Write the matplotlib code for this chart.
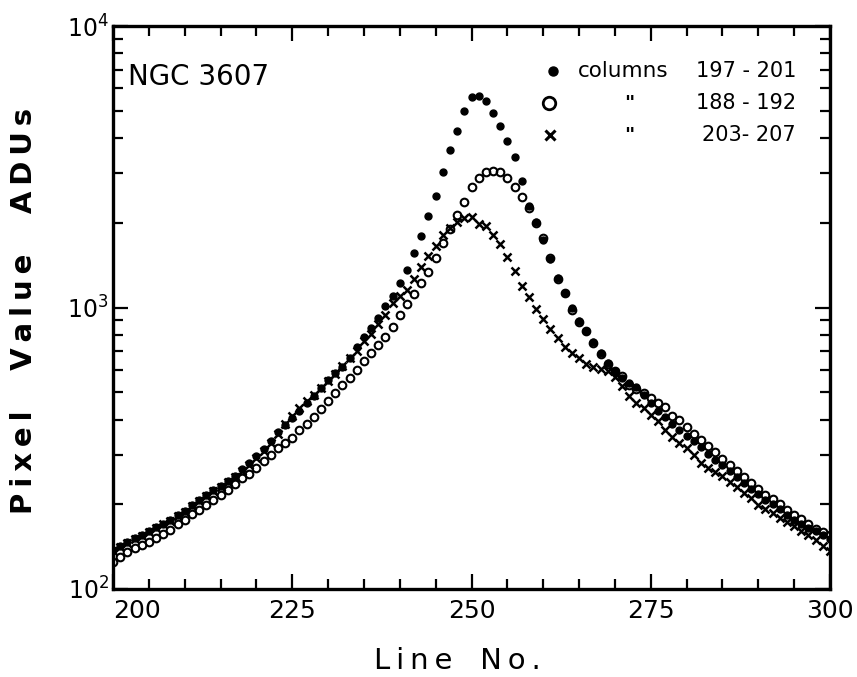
import numpy as np
import matplotlib
matplotlib.use("Agg")
import matplotlib.pyplot as plt
from matplotlib.ticker import MultipleLocator, LogLocator, NullFormatter

# line numbers 200..300, one point per line
line_no = np.arange(200, 301)

# pixel value (ADUs), columns 197-201 (filled dots)
cols_197_201 = [
    138, 142, 147, 152, 156, 161, 166, 170, 176, 183,
    189, 199, 207, 216, 225, 232, 242, 252, 267, 280,
    297, 314, 336, 361, 382, 405, 429, 458, 485, 518,
    553, 585, 615, 662, 724, 786, 846, 918, 1012, 1099,
    1222, 1359, 1562, 1795, 2113, 2490, 3029, 3627, 4236, 4989,
    5594, 5640, 5414, 4909, 4413, 3904, 3424, 2814, 2294, 2013,
    1737, 1487, 1273, 1126, 996, 895, 825, 754, 689, 635,
    595, 562, 539, 522, 489, 458, 429, 408, 386, 367,
    350, 336, 320, 302, 287, 276, 263, 250, 238, 227,
    218, 207, 200, 192, 183, 176, 170, 165, 161, 156, 151,
]

# columns 188-192 (open circles)
cols_188_192 = [
    125, 130, 135, 140, 143, 147, 152, 157, 162, 170,
    176, 185, 191, 199, 207, 216, 225, 236, 247, 257,
    270, 284, 299, 316, 330, 344, 366, 386, 408, 436,
    466, 497, 531, 564, 600, 646, 689, 736, 786, 852,
    937, 1029, 1117, 1222, 1337, 1499, 1695, 1901, 2131, 2371,
    2680, 2884, 3029, 3054, 3029, 2884, 2680, 2470, 2257, 1996,
    1766, 1499, 1263, 1126, 980, 888, 825, 748, 683, 630,
    595, 571, 531, 513, 497, 477, 458, 443, 412, 398,
    376, 355, 338, 321, 307, 290, 276, 263, 250, 238,
    227, 216, 208, 201, 191, 183, 177, 170, 163, 159, 156,
]

# columns 203-207 (crosses)
cols_203_207 = [
    136, 141, 146, 151, 154, 159, 165, 170, 174, 182,
    188, 197, 205, 214, 223, 230, 240, 250, 263, 276,
    292, 309, 330, 355, 386, 412, 440, 466, 489, 518,
    548, 580, 620, 662, 700, 760, 805, 874, 941, 1038,
    1099, 1154, 1263, 1393, 1524, 1654, 1810, 1916, 2013, 2079,
    2097, 1980, 1948, 1810, 1681, 1512, 1348, 1192, 1090, 988,
    910, 839, 779, 724, 689, 662, 630, 615, 605, 595,
    567, 526, 485, 458, 440, 415, 395, 367, 347, 330,
    317, 299, 280, 269, 260, 252, 240, 230, 219, 210,
    199, 192, 186, 179, 173, 167, 161, 156, 149, 142, 136,
]

x_ticks = [200, 225, 250, 275, 300]
x_tick_labels = ['200', '225', '250', '275', '300']
legend_ranges = ["197 - 201", "188 - 192", "203- 207"]

W, H = 857, 677
fig = plt.figure(figsize=(W / 100, H / 100), dpi=100)
ax = fig.add_axes([113 / W, 88 / H, (830 - 113) / W, (651 - 88) / H])

ax.plot(line_no, cols_203_207, linestyle='none', marker='x', ms=5.5,
        mew=1.8, color='black')
ax.plot(line_no, cols_188_192, linestyle='none', marker='o', ms=5.5,
        mew=1.5, mfc='none', mec='black')
ax.plot(line_no, cols_197_201, linestyle='none', marker='o', ms=5,
        color='black')

ax.set_yscale('log')
ax.set_xlim(200, 300)
ax.set_ylim(100, 10000)

# ticks inward on all four sides
ax.set_xticks(x_ticks)
ax.set_xticklabels(x_tick_labels)
ax.xaxis.set_minor_locator(MultipleLocator(5))
ax.set_yticks([100, 1000, 10000])
ax.set_yticklabels([r'$10^2$', r'$10^3$', r'$10^4$'])
ax.yaxis.set_minor_locator(LogLocator(base=10, subs=np.arange(2, 10)))
ax.yaxis.set_minor_formatter(NullFormatter())
ax.tick_params(which='both', direction='in', top=True, right=True,
               width=1.6, colors='black')
ax.tick_params(which='major', length=11)
ax.tick_params(which='minor', length=7)
ax.tick_params(axis='x', which='major', labelsize=18, pad=7)
ax.tick_params(axis='y', which='major', labelsize=17, pad=3)
for s in ax.spines.values():
    s.set_linewidth(2.4)
# the 200 label sits right of its tick, clear of 10^2
ax.get_xticklabels()[0].set_horizontalalignment('left')

ts = '\u2009'
fig.text(457 / W, 1 - 661 / H, ts.join('Line') + '   ' + ts.join('No.'),
         ha='center', va='center', fontsize=21)
ylab = '    '.join(ts.join(w) for w in ['Pixel', 'Value', 'ADUs'])
fig.text(24 / W, 1 - 311 / H, ylab, rotation=90, ha='center', va='center',
         fontsize=21, fontweight='bold')

fig.text(128 / W, 1 - 77 / H, 'NGC 3607', ha='left', va='center', fontsize=20)

# hand-made key in the top right corner
key_y = [71, 103, 135]
fig.lines.append(plt.Line2D([553 / W], [1 - key_y[0] / H], marker='o', ms=6.5,
                            color='black', linestyle='none',
                            transform=fig.transFigure))
fig.lines.append(plt.Line2D([549 / W], [1 - key_y[1] / H], marker='o', ms=9,
                            mew=2, mfc='none', mec='black', linestyle='none',
                            transform=fig.transFigure))
fig.lines.append(plt.Line2D([550 / W], [1 - key_y[2] / H], marker='x', ms=7,
                            mew=2.2, color='black', linestyle='none',
                            transform=fig.transFigure))
fig.text(578 / W, 1 - key_y[0] / H, 'columns', ha='left', va='center',
         fontsize=15.5)
for yy in key_y[1:]:
    fig.text(629 / W, 1 - yy / H, '"', ha='center', va='center', fontsize=14,
             fontweight='bold')
for yy, rng in zip(key_y, legend_ranges):
    fig.text(796 / W, 1 - yy / H, rng, ha='right', va='center', fontsize=15)

fig.savefig('out.png', dpi=100)
